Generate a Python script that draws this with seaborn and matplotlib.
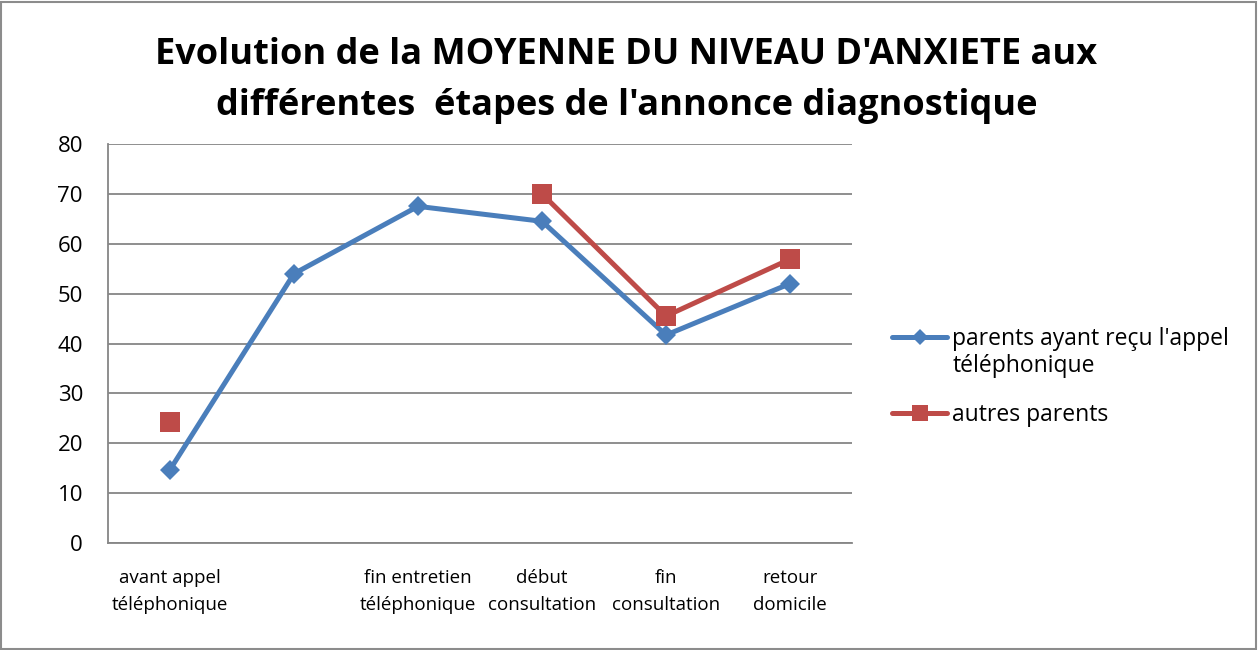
import numpy as np
import pandas as pd
import seaborn as sns
import matplotlib
matplotlib.use("Agg")
import matplotlib.pyplot as plt
from matplotlib.lines import Line2D
from matplotlib.patches import Rectangle

# Stages of the diagnosis announcement (second stage has no label)
stages = ["avant appel\ntéléphonique", "", "fin entretien\ntéléphonique",
          "début\nconsultation", "fin\nconsultation", "retour\ndomicile"]

# Mean anxiety level per stage
appel_values = [14.7, 54.0, 67.5, 64.5, 41.7, 52.0]
autres_values = [24.2, np.nan, np.nan, 70.0, 45.5, 56.9]

series_names = ["parents ayant reçu l'appel téléphonique", "autres parents"]
yticks = [0, 10, 20, 30, 40, 50, 60, 70, 80]

BLUE = "#4A7EBB"
RED = "#BE4B48"
GRID = "#868686"

sns.set_theme(style="white")
plt.rcParams["font.family"] = ["Open Sans", "DejaVu Sans"]
plt.rcParams["text.color"] = "black"
plt.rcParams["xtick.color"] = "black"
plt.rcParams["ytick.color"] = "black"

# Long-form table; a new segment starts after each gap so gaps stay unconnected
rows = []
for name, vals in zip(series_names, [appel_values, autres_values]):
    seg = 0
    for i, v in enumerate(vals):
        if np.isnan(v):
            seg += 1
            continue
        rows.append({"stage": i, "value": v, "series": name, "segment": seg})
df = pd.DataFrame(rows)

fig = plt.figure(figsize=(12.59, 6.5), dpi=100)
ax = fig.add_axes([108 / 1259, 1 - 543 / 650, (852 - 108) / 1259, (543 - 144) / 650])

styles = {series_names[0]: dict(color=BLUE, marker="D", ms=10),
          series_names[1]: dict(color=RED, marker="s", ms=14)}
for name in series_names:
    st = styles[name]
    sns.lineplot(data=df[df["series"] == name], x="stage", y="value", units="segment",
                 estimator=None, color=st["color"], marker=st["marker"],
                 markersize=st["ms"], markeredgewidth=0, linewidth=3.6,
                 ax=ax, legend=False, zorder=3)

ax.set_xlim(-0.5, len(stages) - 0.5)
ax.set_ylim(0, 80)
ax.set_yticks(yticks)
ax.set_xticks(range(len(stages)))
ax.set_xticklabels(stages, fontsize=13.5, linespacing=1.6)
ax.tick_params(axis="y", labelsize=16, length=0, pad=18)
ax.tick_params(axis="x", length=0, pad=19)
ax.set_xlabel("")
ax.set_ylabel("")
ax.grid(axis="y", color=GRID, linewidth=1.3)
ax.set_axisbelow(True)
for side in ["top", "right"]:
    ax.spines[side].set_visible(False)
for side in ["left", "bottom"]:
    ax.spines[side].set_color(GRID)
    ax.spines[side].set_linewidth(1.3)

fig.text(0.4975, 1 - 55 / 650, "Evolution de la MOYENNE DU NIVEAU D'ANXIETE aux",
         ha="center", va="center", fontsize=26, fontweight="bold")
fig.text(0.4975, 1 - 106 / 650, "différentes  étapes de l'annonce diagnostique",
         ha="center", va="center", fontsize=26, fontweight="bold")

# Legend: the first label wraps onto a second line under its text
first_line, second_line = series_names[0].rsplit(" ", 1)
handles = [Line2D([], [], color=BLUE, marker="D", ms=8.5, mew=0, lw=3.6),
           Line2D([], [], color=RED, marker="s", ms=12, mew=0, lw=3.6)]
leg = fig.legend(handles, [first_line, series_names[1]], loc="upper left",
                 bbox_to_anchor=(892 / 1259, 1 - 327 / 650), frameon=False,
                 fontsize=16.5, handlelength=2.4, handletextpad=0.2,
                 labelspacing=2.28, borderaxespad=0, borderpad=0)
fig.text(953 / 1259, 1 - 366 / 650, second_line, ha="left", va="center", fontsize=16.5)

fig.add_artist(Rectangle((0.001, 0.002), 0.997, 0.995, transform=fig.transFigure,
                         fill=False, edgecolor="#8C8C8C", linewidth=1.5))

fig.savefig("out.png", dpi=100, facecolor="white")
